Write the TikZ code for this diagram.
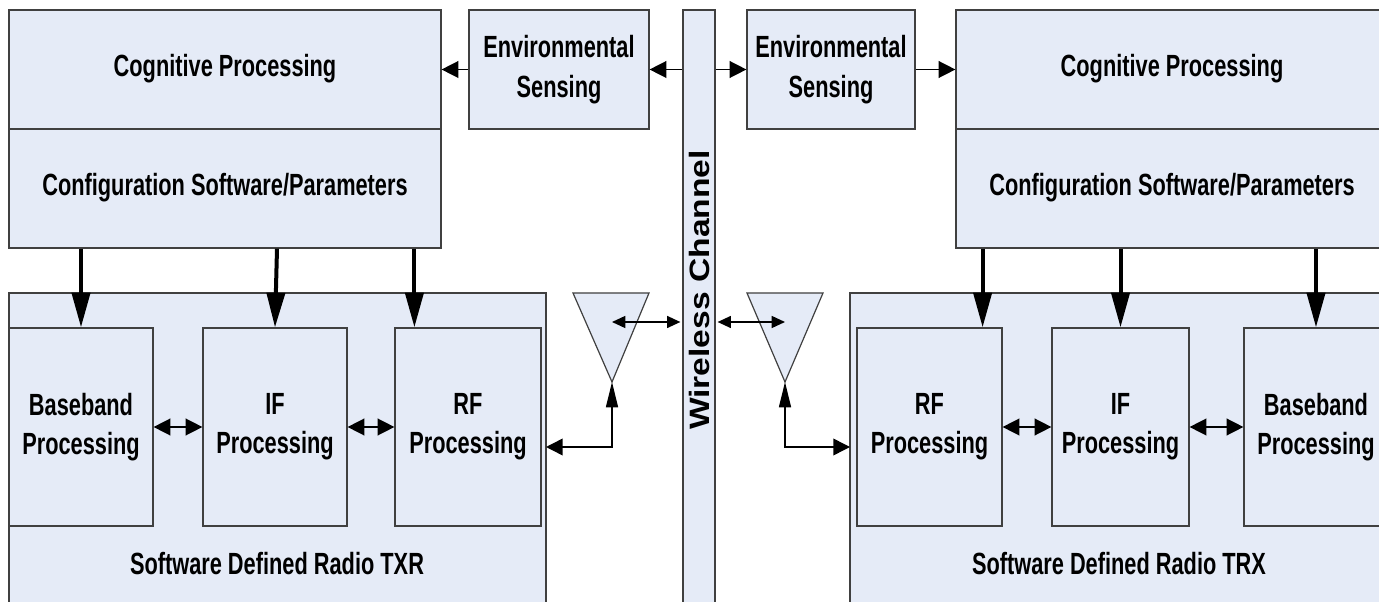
\documentclass[tikz,border=0pt]{standalone}
\usepackage{fontspec}
\usetikzlibrary{arrows.meta,fit}
\newfontfamily\lblfont{Liberation Sans}[FakeStretch=0.71]
\newfontfamily\chanfont{Liberation Sans}[FakeStretch=1.2]
\definecolor{boxfill}{RGB}{229,235,247}
\definecolor{boxline}{RGB}{64,64,64}
\tikzset{
  HeadA/.tip={Triangle[length=12.5pt,width=12.5pt]},
  HeadV/.tip={Triangle[length=19pt,width=9pt]},
  HeadS/.tip={Triangle[length=10pt,width=9pt]},
  HeadK/.tip={Triangle[length=26pt,width=13.5pt]},
}
\begin{document}
\begin{tikzpicture}[x=0.75pt,y=-0.75pt,
  blk/.style={draw=boxline,fill=boxfill,line width=0.9pt,inner sep=0pt},
  lbl/.style={font=\lblfont\bfseries\fontsize{23}{29.5}\selectfont,align=center,inner sep=0pt},
  thinarrow/.style={line width=1.1pt},
  thickarrow/.style={line width=3pt,-HeadK},
]
\clip (0,0) rectangle (1379,602);

% wireless channel bar
\node[blk,fit={(683,10) (715,640)}] (chan) {};
\node[font=\chanfont\bfseries\fontsize{21}{24}\selectfont,rotate=90,inner sep=0pt] (chant) at (699,290) {Wireless Channel};

% transmitter side
\node[blk,fit={(9,10) (441,248)}] (cogL) {};
\draw[boxline,line width=0.9pt] (cogL.west) -- (cogL.east);
\node[lbl] (cogLt) at (225,69) {Cognitive Processing};
\node[lbl] (cfgLt) at (225,188) {Configuration Software/Parameters};
\node[blk,fit={(469,10) (649,129)}] (envL) {};
\node[lbl] (envLt) at (envL) {Environmental\\Sensing};

\node[blk,fit={(9,293) (546,640)}] (sdrL) {};
\node[lbl] (sdrLt) at (277,564) {Software Defined Radio TXR};
\node[blk,fit={(9,328) (153,526)}] (bbL) {};
\node[blk,fit={(203,328) (347,526)}] (ifL) {};
\node[blk,fit={(395,328) (541,526)}] (rfL) {};
\node[lbl] (bbLt) at (bbL) {Baseband\\Processing};
\node[lbl] (ifLt) at (ifL) {IF\\Processing};
\node[lbl] (rfLt) at (rfL) {RF\\Processing};

\draw[blk] (573,293) -- (649,293) -- (612,382) -- cycle;
\coordinate (antLtip) at (612,382);
\coordinate (antLmid) at (612,322);
\coordinate (rfLport) at (546,447);

% receiver side
\node[blk,fit={(956,10) (1388,248)}] (cogR) {};
\draw[boxline,line width=0.9pt] (cogR.west) -- (cogR.east);
\node[lbl] (cogRt) at (1172,69) {Cognitive Processing};
\node[lbl] (cfgRt) at (1172,188) {Configuration Software/Parameters};
\node[blk,fit={(747,10) (915,129)}] (envR) {};
\node[lbl] (envRt) at (envR) {Environmental\\Sensing};

\node[blk,fit={(850,293) (1388,640)}] (sdrR) {};
\node[lbl] (sdrRt) at (1119,564) {Software Defined Radio TRX};
\node[blk,fit={(857,328) (1002,526)}] (rfR) {};
\node[blk,fit={(1052,328) (1189,526)}] (ifR) {};
\node[blk,fit={(1244,328) (1388,526)}] (bbR) {};
\node[lbl] (rfRt) at (rfR) {RF\\Processing};
\node[lbl] (ifRt) at (ifR) {IF\\Processing};
\node[lbl] (bbRt) at (bbR) {Baseband\\Processing};

\draw[blk] (747,293) -- (823,293) -- (785,382) -- cycle;
\coordinate (antRtip) at (785,382);
\coordinate (antRmid) at (785,322);
\coordinate (rfRport) at (850,447);

% sensing paths
\draw[thinarrow,-HeadA] (envL.west) -- (envL.west -| cogL.east);
\draw[thinarrow,-HeadA] (chan.west |- envL.east) -- (envL.east);
\draw[thinarrow,-HeadA] (chan.east |- envR.west) -- (envR.west);
\draw[thinarrow,-HeadA] (envR.east) -- (envR.east -| cogR.west);

% configuration paths
\draw[thickarrow] (bbL.north |- cogL.south) -- (bbL.north);
\draw[thickarrow] ([xshift=1.5pt]ifL.north |- cogL.south) -- (ifL.north);
\draw[thickarrow] ([xshift=15pt]rfL.north west |- cogL.south) -- ([xshift=15pt]rfL.north west);
\draw[thickarrow] ([xshift=-15pt]rfR.north east |- cogR.south) -- ([xshift=-15pt]rfR.north east);
\draw[thickarrow] (ifR.north |- cogR.south) -- (ifR.north);
\draw[thickarrow] (bbR.north |- cogR.south) -- (bbR.north);

% signal chain
\draw[thinarrow,HeadA-HeadA] (bbL.east) -- (ifL.west);
\draw[thinarrow,HeadA-HeadA] (ifL.east) -- (rfL.west);
\draw[thinarrow,HeadA-HeadA] (rfR.east) -- (ifR.west);
\draw[thinarrow,HeadA-HeadA] (ifR.east) -- (bbR.west);

% antenna feeds and radiation
\draw[thinarrow,HeadA-HeadV] (rfLport) -| (antLtip);
\draw[thinarrow,HeadA-HeadV] (rfRport) -| (antRtip);
\draw[thinarrow,HeadS-HeadS] (antLmid) -- ([xshift=-1.5pt]antLmid -| chan.west);
\draw[thinarrow,HeadS-HeadS] ([xshift=1.5pt]antRmid -| chan.east) -- (antRmid);
\end{tikzpicture}
\end{document}
